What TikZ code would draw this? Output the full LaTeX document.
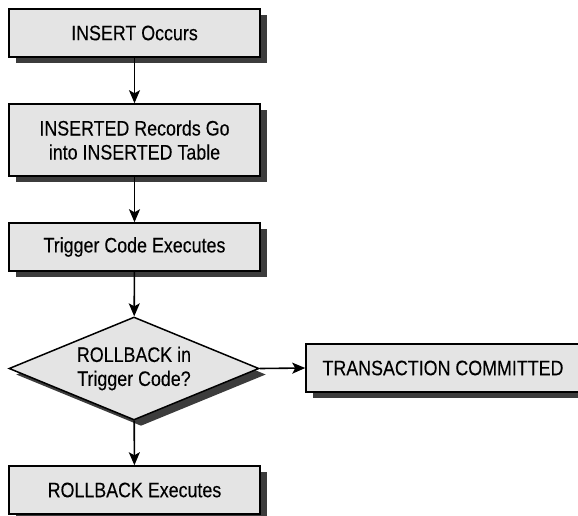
\documentclass[tikz,border=0pt]{standalone}
\usepackage{fontspec}
\setmainfont[FakeStretch=0.85,FakeBold=0.15]{Liberation Sans}
\usetikzlibrary{shapes.geometric,shadows,arrows.meta}
\definecolor{boxgray}{HTML}{E4E4E4}
\definecolor{shadowgray}{HTML}{3C3C3C}
\tikzset{
  base/.style={draw=black, line width=1.5pt, fill=boxgray, inner sep=0pt,
    font=\fontsize{21}{24}\selectfont, align=center,
    drop shadow={shadow xshift=7pt, shadow yshift=-6pt, fill=shadowgray, opacity=1}},
  procbox/.style={base, rectangle, minimum width=251pt},
  decbox/.style={base, diamond, minimum width=250pt, minimum height=103pt, aspect=2.43},
  flow/.style={line width=1.6pt, -{Stealth[length=13pt,width=11pt,inset=3pt]}}
}
\begin{document}
\begin{tikzpicture}[x=1pt,y=-1pt]
\useasboundingbox (0,0) rectangle (578,515);
\clip (0,0) rectangle (578,515);
\node[procbox, minimum height=48pt] (a) at (134.5,33) {INSERT Occurs};
\node[procbox, minimum height=72pt] (b) at (134.5,140) {INSERTED Records Go\\into INSERTED Table};
\node[procbox, minimum height=48pt] (c) at (134.5,247) {Trigger Code Executes};
\node[decbox] (d) at (134,368.5) {ROLLBACK in\\Trigger Code?};
\node[procbox, minimum height=48pt] (e) at (134.5,490) {ROLLBACK Executes};
\node[procbox, minimum width=274pt, minimum height=48pt] (f) at (443,368) {TRANSACTION COMMITTED};
\draw[flow] (a) -- (b);
\draw[flow] (b) -- (c);
\draw[flow] (c) -- (d);
\draw[flow] (d) -- (e);
\draw[flow] (d.east) -- (f.west);
\end{tikzpicture}
\end{document}
